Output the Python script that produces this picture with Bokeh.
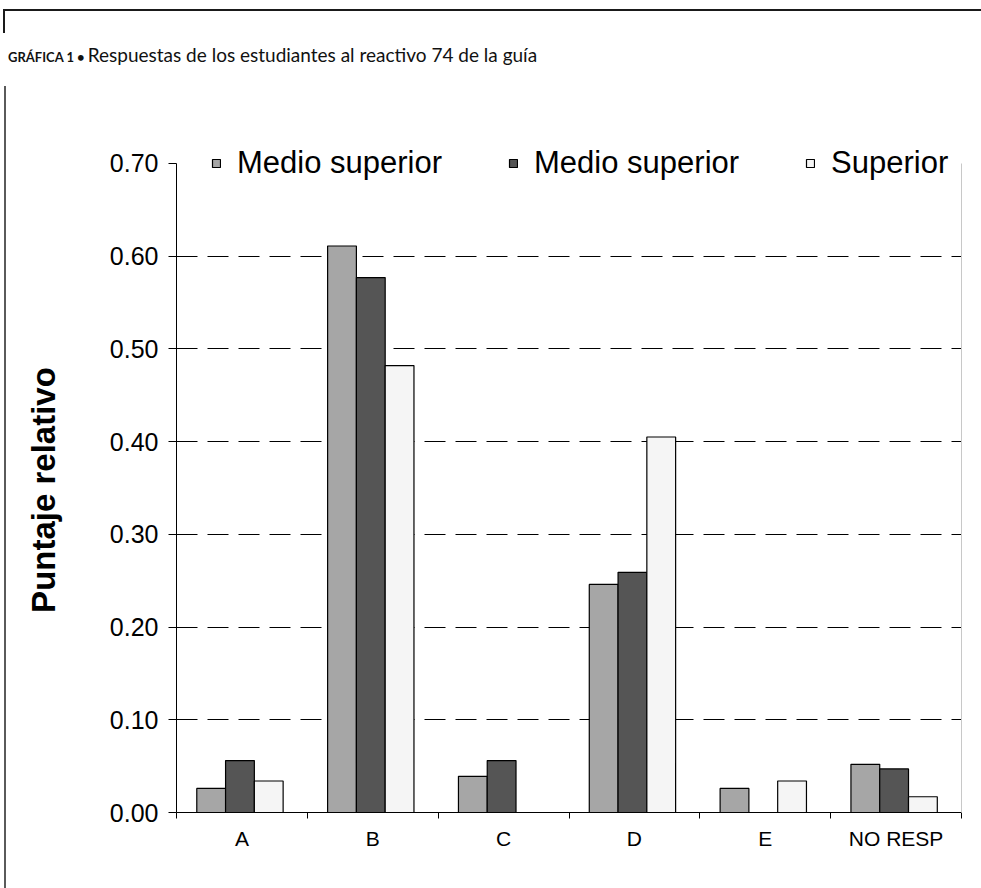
import numpy as np
from bokeh.plotting import figure
from bokeh.layouts import column, row
from bokeh.models import (ColumnDataSource, Range1d, FixedTicker, Legend, LegendItem,
                          LinearAxis, Div, NumeralTickFormatter)
from bokeh.transform import dodge
from bokeh.embed import file_html
from bokeh.resources import INLINE

# ---- data ----
categories = ["A", "B", "C", "D", "E", "NO RESP"]
medio_superior_1 = [0.026, 0.611, 0.039, 0.246, 0.026, 0.052]
medio_superior_2 = [0.056, 0.577, 0.056, 0.259, 0.0, 0.047]
superior = [0.034, 0.482, 0.0, 0.405, 0.034, 0.017]
series_labels = ["Medio superior", "Medio superior", "Superior"]
y_ticks = [0.0, 0.1, 0.2, 0.3, 0.4, 0.5, 0.6, 0.7]
title_prefix = "GRÁFICA 1 •"
title_text = "Respuestas de los estudiantes al reactivo 74 de la guía"
y_label = "Puntaje relativo"

n = len(categories)
centers = list(np.arange(n) + 0.5)
bounds = list(np.arange(n + 1).astype(float))

src = ColumnDataSource(dict(x=centers, s1=medio_superior_1, s2=medio_superior_2, s3=superior))

# headroom above the top tick so the legend sits inside the frame
y_end = 0.7345

p = figure(width=911, height=808, x_range=Range1d(0, n), y_range=Range1d(0, y_end),
           output_backend="svg", toolbar_location=None,
           min_border_left=106, min_border_top=51, min_border_right=20, min_border_bottom=76)
p.background_fill_color = "white"
p.border_fill_color = "white"
p.outline_line_color = None

bw = 0.22
fills = ["#a6a6a6", "#555555", "#f5f5f5"]
offs = [-0.235, -0.015, 0.205]
rs = []
for col, off, fc in zip(["s1", "s2", "s3"], offs, fills):
    r = p.vbar(x=dodge("x", off), top=col, width=bw, bottom=0, source=src,
               fill_color=fc, line_color="black", line_width=1.2)
    rs.append(r)

# grid
p.xgrid.visible = False
p.ygrid.ticker = FixedTicker(ticks=y_ticks[1:-1])
p.ygrid.grid_line_color = "black"
p.ygrid.grid_line_dash = "21 10"
p.ygrid.grid_line_width = 1

# x axis
xa = p.xaxis[0]
xa.ticker = FixedTicker(ticks=centers, minor_ticks=bounds)
xa.major_label_overrides = {c: lab for c, lab in zip(centers, categories)}
xa.major_tick_line_color = None
xa.major_tick_out = 6
xa.major_tick_in = 0
xa.minor_tick_line_color = "black"
xa.minor_tick_out = 6
xa.minor_tick_in = 0
xa.axis_line_color = "black"
xa.major_label_text_font = "Liberation Sans"
xa.major_label_text_font_size = "21px"
xa.major_label_text_color = "black"
xa.major_label_standoff = 8

# y axis
ya = p.yaxis[0]
ya.ticker = FixedTicker(ticks=y_ticks)
ya.bounds = (y_ticks[0], y_ticks[-1])
ya.formatter = NumeralTickFormatter(format="0.00")
ya.major_tick_out = 8
ya.major_tick_in = 0
ya.minor_tick_line_color = None
ya.axis_line_color = "black"
ya.major_label_text_font = "Liberation Sans"
ya.major_label_text_font_size = "25px"
ya.major_label_text_color = "black"
ya.major_label_standoff = 10

# right frame border (light gray), limited to the tick span
ra = LinearAxis(ticker=FixedTicker(ticks=[]), bounds=(y_ticks[0], y_ticks[-1]),
                axis_line_color="#c8c8c8", major_tick_line_color=None,
                minor_tick_line_color=None, major_label_text_font_size="0px")
p.add_layout(ra, "right")

# legend
legend = Legend(items=[LegendItem(label=lab, renderers=[r]) for lab, r in zip(series_labels, rs)],
                orientation="horizontal", location=(35, 631), glyph_width=10, glyph_height=10,
                label_standoff=16, spacing=66, padding=0, margin=0,
                background_fill_alpha=0, border_line_color=None,
                label_text_font="Liberation Sans", label_text_font_size="31px",
                label_text_color="black")
p.add_layout(legend)

# header with title and page rules
header_html = (
    '<div style="position:relative;width:981px;height:80px;">'
    '<div style="position:absolute;left:3px;top:9px;width:978px;height:2px;background:#1a1a1a;"></div>'
    '<div style="position:absolute;left:3px;top:9px;width:2px;height:24px;background:#1a1a1a;"></div>'
    '<div style="position:absolute;left:8px;top:41px;white-space:nowrap;font-family:Lato;color:#111;">'
    f'<span style="font-size:13px;font-weight:bold;">{title_prefix}</span> '
    f'<span style="font-size:19px;">{title_text}</span></div>'
    '</div>'
)
header = Div(text=header_html, width=981, height=80, margin=0)

# left strip: page rule and rotated y-axis title
side_html = (
    '<div style="position:relative;width:70px;height:808px;">'
    '<div style="position:absolute;left:4px;top:6px;width:2px;height:802px;background:#5a5a5a;"></div>'
    '<div style="position:absolute;left:44px;top:410px;transform:translate(-50%,-50%) rotate(-90deg);'
    'white-space:nowrap;font-family:\'Liberation Sans\';font-weight:bold;font-size:33px;color:#000;">'
    f'{y_label}</div>'
    '</div>'
)
side = Div(text=side_html, width=70, height=808, margin=0)

layout = column(header, row(side, p, spacing=0), spacing=0)
open("out.html", "w").write(file_html(layout, INLINE))
